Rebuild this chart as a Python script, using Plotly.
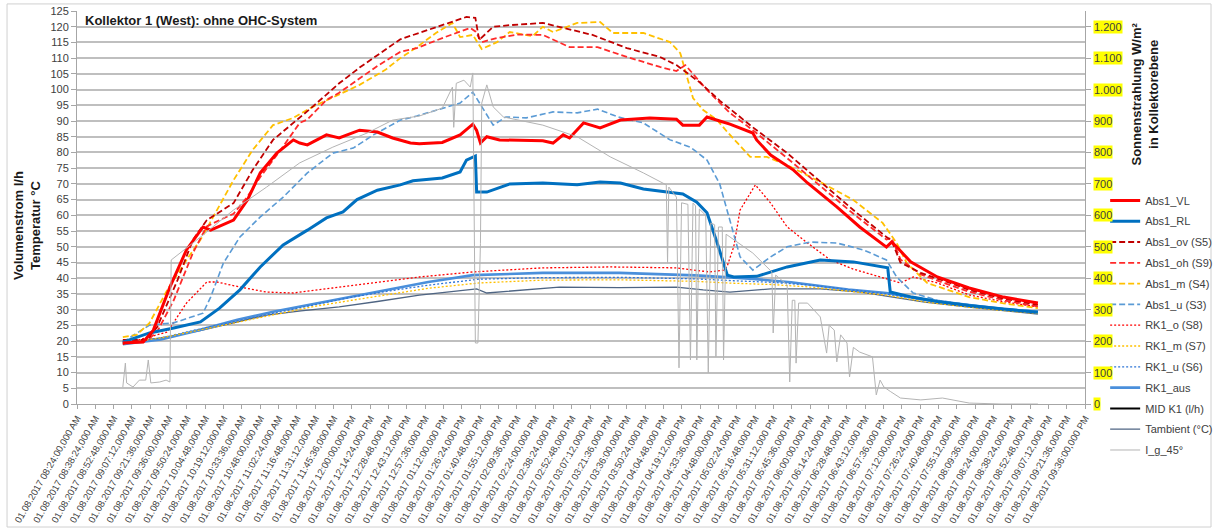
import pandas as pd
import plotly.graph_objects as go

DAY = "2017-08-01 "

# ---------------- data ----------------
abs1_vl_t = ["09:00","09:16","09:24","09:37","09:50","10:03","10:09","10:27","10:38","10:48","11:01","11:14","11:19","11:25","11:40","11:50","12:06","12:20","12:32","12:46","12:53","13:11","13:25","13:35","13:38","13:41","13:46","13:56","14:30","14:38","14:46","14:51","15:02","15:15","15:31","15:54","16:15","16:20","16:33","16:39","16:49","16:57","17:15","17:18","17:29","17:47","17:58","18:21","18:39","19:00","19:04","19:08","19:19","19:40","20:05","20:32","20:59"]
abs1_vl = [19.4,19.7,23.5,37.2,49.0,56.3,55.3,58.5,65.0,73.5,79.8,84.0,83.0,82.4,85.6,84.6,87.1,86.5,84.6,83.0,82.8,83.2,85.6,89.0,87.0,83.0,85.0,84.0,83.7,83.0,85.6,84.6,89.4,87.8,90.3,91.0,90.6,88.7,88.7,91.3,90.0,89.0,86.2,84.0,79.2,74.4,70.3,62.7,56.3,49.9,51.5,50.0,45.2,40.4,36.9,34.0,32.1]

abs1_rl_t = ["09:00","09:21","09:40","10:01","10:16","10:32","10:48","11:06","11:25","11:40","11:53","12:04","12:20","12:38","12:48","13:11","13:25","13:30","13:37","13:38","13:46","14:04","14:30","14:57","15:15","15:31","15:49","16:10","16:20","16:31","16:39","16:47","16:55","17:00","17:18","17:42","18:08","18:34","19:01","19:03","19:20","19:40","20:05","20:32","20:59"]
abs1_rl = [19.7,22.6,24.2,26.1,30.5,36.3,43.6,50.6,55.3,59.2,61.1,65.0,68.0,69.7,71.0,71.9,73.8,77.6,78.9,67.4,67.4,70.0,70.3,69.7,70.6,70.3,68.4,67.4,66.8,64.2,60.8,51.2,41.0,40.4,40.6,43.6,45.8,45.2,43.3,35.6,34.0,32.6,31.3,30.2,29.2]

abs1_ov_t = ["09:00","09:19","09:27","09:43","09:55","10:06","10:27","10:42","10:58","11:14","11:29","11:50","12:06","12:38","12:53","13:11","13:30","13:37","13:40","13:51","14:04","14:30","14:43","15:09","15:36","16:02","16:15","16:33","16:49","17:15","17:42","18:08","18:34","19:00","19:04","19:11","19:27","19:50","20:05","20:32","20:59"]
abs1_ov = [20.4,20.4,24.5,39.4,52.2,58.5,63.9,74.4,84.0,89.4,94.5,102.0,107.0,116.0,118.0,120.5,123.1,122.8,115.8,120.0,120.5,121.2,120.0,117.4,113.2,110.4,107.8,102.4,96.5,88.0,79.8,70.6,61.7,53.1,52.0,45.0,41.7,38.5,36.3,33.5,31.5]

abs1_oh_t = ["09:00","09:20","09:27","09:40","09:55","10:06","10:16","10:27","10:38","10:48","11:04","11:19","11:25","11:40","11:50","12:06","12:20","12:38","12:51","13:11","13:33","13:37","13:42","13:54","14:10","14:30","14:51","15:13","15:36","16:02","16:15","16:22","16:39","16:57","17:15","17:42","18:08","18:34","19:00","19:04","19:11","19:27","19:50","20:05","20:32","20:59"]
abs1_oh = [19.6,20.5,23.0,33.0,48.0,56.5,58.5,60.5,66.0,72.2,80.8,89.4,90.5,96.7,99.0,103.5,107.5,112.0,113.2,116.4,119.6,118.5,115.1,116.4,117.5,117.4,113.5,113.5,110.4,107.2,105.9,107.8,99.9,92.6,87.1,78.2,69.3,60.5,52.3,52.8,46.0,41.2,37.8,35.7,33.0,31.0]

abs1_m_t = ["09:00","09:11","09:21","09:35","09:50","10:01","10:11","10:27","10:42","10:58","11:14","11:29","11:45","12:06","12:26","12:38","12:51","13:06","13:19","13:25","13:35","13:42","13:54","14:04","14:22","14:30","14:38","14:57","15:15","15:25","15:49","16:10","16:18","16:23","16:28","16:36","16:47","16:55","17:03","17:13","17:26","17:42","18:08","18:34","18:57","19:08","19:16","19:32","20:05","20:32","20:59"]
abs1_m = [21.3,22.0,25.8,36.3,45.8,52.2,59.5,71.2,80.8,88.7,91.0,94.5,97.5,101.5,106.2,110.0,113.5,118.0,121.2,116.7,117.4,112.9,115.1,118.3,117.0,120.0,118.3,121.2,121.5,118.0,118.0,115.1,111.6,104.0,97.3,93.5,90.3,86.5,83.0,78.6,78.6,76.0,70.6,64.9,57.6,51.2,44.8,38.5,34.0,32.0,30.5]

abs1_u_t = ["09:00","09:21","09:40","10:03","10:09","10:19","10:32","10:48","11:06","11:25","11:45","12:01","12:17","12:38","12:51","13:11","13:25","13:35","13:42","13:51","14:01","14:17","14:38","14:57","15:13","15:29","15:49","16:10","16:26","16:39","16:49","16:57","17:05","17:15","17:29","17:42","18:00","18:21","18:42","19:00","19:08","19:21","19:40","20:05","20:32","20:59"]
abs1_u = [19.7,25.1,25.8,28.9,34.0,44.8,53.1,59.5,65.8,73.5,79.8,81.4,85.6,90.3,91.6,94.1,95.7,99.2,94.5,88.7,91.3,91.0,92.9,92.6,93.8,91.3,89.4,84.0,81.7,77.6,70.0,58.0,46.8,42.6,46.8,50.0,51.5,51.2,49.0,45.8,40.4,35.3,33.0,31.5,30.3,29.5]

rk1_o_t = ["09:00","09:35","09:50","10:06","10:14","10:32","10:53","11:14","11:45","12:17","12:53","13:35","14:30","15:23","16:15","16:41","16:52","16:55","17:00","17:05","17:17","17:29","17:42","17:58","18:16","18:34","18:55","19:11","19:21","19:40","20:05","20:32","20:59"]
rk1_o = [19.0,22.9,32.1,38.8,38.8,37.2,35.6,35.3,36.9,38.5,40.4,42.0,43.3,43.6,43.3,42.0,42.6,44.0,50.0,61.7,69.7,63.9,56.3,51.2,45.8,42.9,40.4,38.5,40.4,38.5,34.7,32.5,30.9]

rk1_m_t = ["09:00","09:30","10:00","10:30","11:00","11:30","12:00","12:30","13:00","13:40","14:30","15:30","16:30","17:00","17:30","18:00","18:30","19:00","19:30","20:00","20:30","20:59"]
rk1_m = [19.3,21.0,23.5,26.0,28.5,31.0,33.0,35.0,36.8,38.5,39.4,39.5,39.0,38.4,38.0,37.2,36.0,34.6,32.5,31.0,29.8,28.8]

rk1_u_t = ["09:00","09:30","10:00","10:30","11:00","11:30","12:00","12:30","13:00","13:40","14:30","15:30","16:30","17:00","17:30","18:00","18:30","19:00","19:30","20:00","20:30","20:59"]
rk1_u = [19.4,21.0,23.8,26.5,29.0,31.5,34.0,36.0,37.8,39.7,40.2,40.3,39.8,39.2,38.7,37.8,36.5,35.0,33.0,31.3,30.0,29.0]

rk1_aus_t = ["09:00","09:30","10:00","10:30","11:00","11:30","12:00","12:30","13:00","13:35","14:30","15:30","16:30","17:00","17:15","17:45","18:08","18:30","19:00","19:30","20:05","20:32","20:59"]
rk1_aus = [19.0,20.5,23.5,26.8,29.5,31.8,34.2,36.5,38.8,41.0,41.7,41.7,40.9,40.2,39.8,38.7,37.5,36.4,35.3,33.2,31.5,30.2,29.3]

# flow meter: no readings visible in the chart
mid_k1_t = ["09:00","21:00"]
mid_k1 = [None, None]

tamb_t = ["09:00","09:30","10:00","10:30","10:53","11:20","11:50","12:20","12:53","13:20","13:38","13:46","14:10","14:43","15:30","16:15","16:36","16:57","17:29","18:08","18:40","19:00","19:30","20:05","20:32","20:59"]
tamb = [19.5,21.0,23.3,26.2,28.3,29.6,30.9,32.6,34.6,35.8,36.6,35.3,36.2,37.2,37.0,37.2,36.3,35.6,36.6,36.6,35.6,34.4,32.4,30.8,29.6,28.6]

ig45_t = ["09:00","09:02","09:03","09:08","09:13","09:18","09:20","09:22","09:29","09:34","09:37","09:38","10:01","10:27","10:53","11:19","11:45","12:12","12:32","12:53","13:11","13:19","13:20","13:22","13:28","13:33","13:35","13:37","13:39","13:41","13:42","13:46","13:51","13:59","14:30","14:57","15:23","15:49","16:07","16:08","16:09","16:15","16:17","16:19","16:24","16:26","16:28","16:30","16:31","16:33","16:38","16:40","16:42","16:45","16:46","16:48","16:51","16:52","16:54","16:57","17:15","17:30","17:31","17:33","17:42","17:44","17:46","17:48","17:49","17:51","17:58","18:08","18:13","18:15","18:19","18:21","18:24","18:29","18:31","18:34","18:39","18:49","18:52","18:55","18:58","19:03","19:11","19:27","19:44","20:05","20:30","20:59"]
ig45 = [54,130,67,54,76,76,140,67,70,76,70,458,531,617,690,767,817,862,903,916,941,1008,880,1020,1030,1008,1053,194,194,510,957,1015,945,913,887,850,786,735,697,448,690,658,115,640,635,140,639,630,140,620,600,99,576,570,150,563,563,140,540,531,480,420,226,410,379,70,330,330,130,321,321,277,162,250,235,134,220,194,86,180,165,150,29,76,54,40,19,13,19,3,0,0]

left_ticks = list(range(0, 126, 5))
right_tick_vals = [0,100,200,300,400,500,600,700,800,900,1000,1100,1200]
right_tick_text = ["0","100","200","300","400","500","600","700","800","900","1.000","1.100","1.200"]

FONT = "Liberation Sans, Arial, sans-serif"


def tx(ts):
    return pd.to_datetime([DAY + t for t in ts])


fig = go.Figure()

series = [
    # name, times, values, color, width, dash, axis
    ("Abs1_VL", abs1_vl_t, abs1_vl, "#FF0000", 3, "solid", "y"),
    ("Abs1_RL", abs1_rl_t, abs1_rl, "#0070C0", 3, "solid", "y"),
    ("Abs1_ov (S5)", abs1_ov_t, abs1_ov, "#C00000", 1.8, "6px,3px", "y"),
    ("Abs1_oh (S9)", abs1_oh_t, abs1_oh, "#FF2A2A", 1.8, "6px,3px", "y"),
    ("Abs1_m (S4)", abs1_m_t, abs1_m, "#FFC000", 1.8, "6px,3px", "y"),
    ("Abs1_u (S3)", abs1_u_t, abs1_u, "#5B9BD5", 1.6, "6px,3px", "y"),
    ("RK1_o (S8)", rk1_o_t, rk1_o, "#FF0000", 1.3, "2px,2px", "y"),
    ("RK1_m (S7)", rk1_m_t, rk1_m, "#FFC000", 1.3, "2px,2px", "y"),
    ("RK1_u (S6)", rk1_u_t, rk1_u, "#2E75D6", 1.3, "2px,2px", "y"),
    ("RK1_aus", rk1_aus_t, rk1_aus, "#4A8FDB", 2.6, "solid", "y"),
    ("MID K1 (l/h)", mid_k1_t, mid_k1, "#000000", 2, "solid", "y"),
    ("Tambient (°C)", tamb_t, tamb, "#4F6583", 1.3, "solid", "y"),
    ("I_g_45°", ig45_t, ig45, "#B4B4B4", 1, "solid", "y2"),
]

# draw order: irradiance underneath, main lines on top
draw_order = [12, 11, 10, 9, 8, 7, 6, 5, 4, 3, 2, 1, 0]
for i in draw_order:
    name, ts, vals, col, w, dash, ax = series[i]
    fig.add_trace(go.Scatter(
        x=tx(ts), y=vals, name=name, mode="lines", yaxis=ax,
        line=dict(color=col, width=w, dash=dash),
        legendrank=i + 1, legendgroup="g%02d" % i,
    ))

x0 = pd.Timestamp(DAY + "08:24")
x1 = pd.Timestamp(DAY + "21:36")

fig.update_layout(
    width=1214, height=529,
    margin=dict(l=77, r=129, t=11, b=125, autoexpand=False),
    paper_bgcolor="white", plot_bgcolor="white",
    font=dict(family=FONT, size=11, color="#404040"),
    showlegend=True,
    legend=dict(x=1.020, y=0.555, xanchor="left", yanchor="top",
                font=dict(size=11, color="#404040"), tracegroupgap=1.8,
                itemwidth=30, bgcolor="rgba(0,0,0,0)", traceorder="grouped"),
    xaxis=dict(
        type="date", range=[x0, x1], tick0=x0, dtick=864000,
        tickformat="%d.%m.%Y %I:%M:%S,000 %p", tickangle=-60,
        tickfont=dict(size=9.5, color="#404040"),
        ticks="outside", ticklen=4, tickcolor="#A6A6A6",
        showgrid=False, showline=True, linecolor="#A6A6A6", linewidth=1,
        zeroline=False, automargin=False,
    ),
    yaxis=dict(
        range=[0, 125], tickvals=left_ticks, showgrid=True,
        gridcolor="#BFBFBF", gridwidth=1.5,
        ticks="outside", ticklen=5, tickcolor="#A6A6A6",
        showline=True, linecolor="#A6A6A6", linewidth=1,
        tickfont=dict(size=11, color="#404040"), zeroline=False,
        automargin=False,
    ),
    yaxis2=dict(
        range=[0, 1250], overlaying="y", side="right",
        tickvals=right_tick_vals, showticklabels=False, showgrid=False,
        ticks="outside", ticklen=5, tickcolor="#A6A6A6",
        showline=True, linecolor="#A6A6A6", linewidth=1, zeroline=False,
    ),
)

annotations = []
for v, t in zip(right_tick_vals, right_tick_text):
    annotations.append(dict(
        x=1, xref="paper", xanchor="left", xshift=8, y=v, yref="y2",
        text=t, showarrow=False, bgcolor="#FFFF00", borderpad=0,
        font=dict(size=11, color="#404040", family=FONT),
    ))
annotations.append(dict(
    x=0.006, xref="paper", xanchor="left", y=0.9746, yref="paper", yanchor="middle",
    text="<b>Kollektor 1 (West): ohne OHC-System</b>", showarrow=False,
    font=dict(size=13, color="#1A1A1A", family=FONT),
))
annotations.append(dict(
    x=-0.0496, xref="paper", xanchor="center", y=0.453, yref="paper", yanchor="middle",
    text="<b>Volumenstrom l/h<br>Temperatur °C</b>", showarrow=False, textangle=-90,
    font=dict(size=13, color="#1A1A1A", family=FONT),
))
annotations.append(dict(
    x=1.0595, xref="paper", xanchor="center", y=0.790, yref="paper", yanchor="middle",
    text="<b>Sonnenstrahlung W/m²<br>in Kollektorebene</b>", showarrow=False, textangle=-90,
    font=dict(size=13, color="#1A1A1A", family=FONT),
))
fig.update_layout(annotations=annotations)

fig.add_shape(type="rect", xref="paper", yref="paper",
              x0=-0.0694, x1=1.1250, y0=-0.313, y1=1.018,
              line=dict(color="#D0D0D0", width=1), layer="below")

fig.write_html("out.html", config={"displayModeBar": False},
               post_script="document.body.style.margin='0';")
